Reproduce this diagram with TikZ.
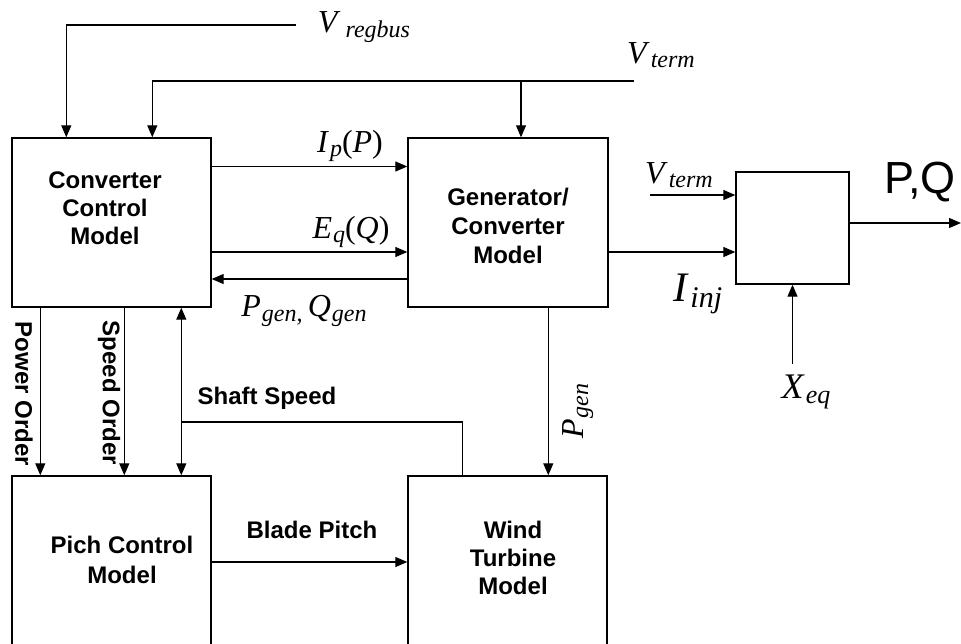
\documentclass[tikz,border=0pt]{standalone}
\usepackage{fontspec}
\setmainfont{Liberation Serif}
\setsansfont{Liberation Sans}
\usepackage{tikz}
\usetikzlibrary{calc,arrows.meta,positioning}
\newcommand{\msub}[3][24]{\textit{#2}\kern1pt\raisebox{-0.3ex}{\fontsize{#1}{#1}\selectfont\textit{#3}}}

\begin{document}
\begin{tikzpicture}[x=1pt,y=-1pt,line width=1.2pt,
		blk/.style={draw,line width=1.4pt,inner sep=0pt},
		btxt/.style={font=\sffamily\bfseries\fontsize{24}{28}\selectfont,align=center,inner sep=1pt},
		mlbl/.style={font=\fontsize{32}{34}\selectfont,inner sep=1pt},
		arr/.style={-{Triangle[length=12pt,width=10pt]}},
		dblarr/.style={{Triangle[length=12pt,width=10pt]}-{Triangle[length=12pt,width=10pt]}}]
	\useasboundingbox (0,0) rectangle (961,643);
	\clip (0,0) rectangle (961,643);
	
	\node[blk,minimum width=199pt,minimum height=169pt] (ccm) at (111.5,222.5) {};
	\node[blk,minimum width=200pt,minimum height=169pt] (gcm) at (508,222.5) {};
	\node[blk,minimum width=113pt,minimum height=112pt] (sumb) at (792.5,228) {};
	\node[blk,minimum width=199pt,minimum height=200pt] (pcm) at (111.5,576) {};
	\node[blk,minimum width=199pt,minimum height=200pt] (wtm) at (507.5,576) {};
	
	\node[btxt] (ccmt) at (105,208) {Converter\\Control\\Model};
	\node[btxt,font=\sffamily\bfseries\fontsize{24}{29}\selectfont] (gcmt) at (508,226) {Generator/\\Converter\\Model};
	\node[btxt,font=\sffamily\bfseries\fontsize{24}{30}\selectfont] (pcmt) at (122,560) {Pich Control\\Model};
	\node[btxt] (wtmt) at (513,558) {Wind\\Turbine\\Model};
	
	\node[btxt] (bladep) at (312,530) {Blade Pitch};
	\node[btxt] (shafts) at (267,398) {Shaft Speed};
	\node[btxt,rotate=-90] (powero) at (24,394) {Power Order};
	\node[btxt,rotate=-90] (speedo) at (109,393) {Speed Order};
	
	\node[mlbl] (vreg) at (364,27) {\msub{V}{\,regbus}};
	\node[mlbl] (vterm) at (661,55) {\msub{V}{term}};
	\node[mlbl] (ip) at (350,146) {\msub{I}{p}(\textit{P})};
	\node[mlbl] (eq) at (351,232) {\msub{E}{q}(\textit{Q})};
	\node[mlbl] (pq) at (304,311) {\msub{P}{gen,}\,\msub{Q}{gen}};
	\node[mlbl] (vtr) at (679,175) {\msub{V}{term}};
	\node[mlbl,font=\fontsize{42}{44}\selectfont] (iinj) at (698,294) {\msub[30]{I}{inj}};
	\node[mlbl,font=\fontsize{36}{38}\selectfont] (xeq) at (806,392) {\msub[26]{X}{eq}};
	\node[mlbl,rotate=90] (pgenr) at (578,411) {\msub{P}{gen}};
	\node[inner sep=1pt,font=\sffamily\fontsize{45}{47}\selectfont] (pqout) at (920,182) {P,Q};
	
	% inputs from the top
	\coordinate (vregend) at (296,25);
	\coordinate (vtermend) at (634,81);
	\draw[arr] (vregend) -| ([xshift=55pt]ccm.north west);
	\draw[arr] (vtermend) -| ([xshift=141pt]ccm.north west);
	\draw[arr] ([xshift=13pt]gcm.north |- vtermend) -- ([xshift=13pt]gcm.north);
	
	\draw[arr] ([yshift=56pt]ccm.east) -- ([yshift=56pt]gcm.west);
	\draw[arr] ([yshift=-29.5pt]ccm.east) -- ([yshift=-29.5pt]gcm.west);
	\draw[arr] ([yshift=-56.5pt]gcm.west) -- ([yshift=-56.5pt]ccm.east);
	
	% network side
	\coordinate (vtin) at (650,195);
	\coordinate (pqend) at (961,223);
	\coordinate (xeqend) at (793,364);
	\draw[arr] ([yshift=-29.5pt]gcm.east) -- ([yshift=-24pt]sumb.west);
	\draw[arr] (vtin) -- (vtin -| sumb.west);
	\draw[arr] (sumb.east |- pqend) -- (pqend);
	\draw[arr] (sumb.south |- xeqend) -- (sumb.south);
	
	% to the lower blocks
	\foreach \dx in {29,113}
	\draw[arr] ([xshift=\dx pt]ccm.south west) -- ([xshift=\dx pt]pcm.north west);
	\draw[dblarr] ([xshift=170pt]ccm.south west) -- ([xshift=170pt]pcm.north west);
	\coordinate (shj) at (182,422);
	\draw ([xshift=55pt]wtm.north west) |- (shj);
	\draw[arr] ([xshift=141pt]gcm.south west) -- ([xshift=141pt]wtm.north west);
	\draw[arr] ([yshift=14pt]pcm.east) -- ([yshift=14pt]wtm.west);
\end{tikzpicture}
\end{document}
